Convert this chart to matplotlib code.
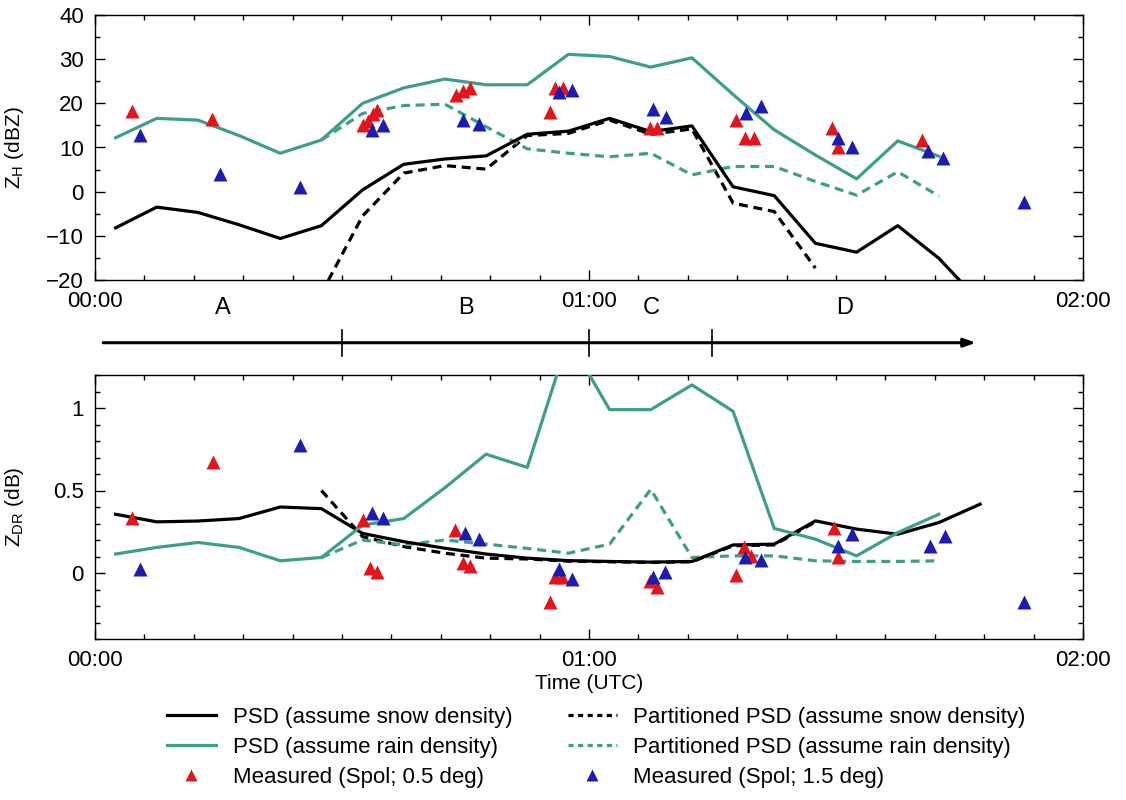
import matplotlib.pyplot as plt
from matplotlib.ticker import MultipleLocator, FuncFormatter
from matplotlib.lines import Line2D

plt.rcParams['font.family'] = ['Liberation Sans', 'DejaVu Sans']

# time axis in minutes after 00:00 UTC
t_psd = [2.5, 7.5, 12.5, 17.5, 22.5, 27.5, 32.5, 37.5, 42.5, 47.5, 52.5,
         57.5, 62.5, 67.5, 72.5, 77.5, 82.5, 87.5, 92.5, 97.5, 102.5, 107.5]
t_part = [27.5, 32.5, 37.5, 42.5, 47.5, 52.5, 57.5, 62.5, 67.5, 72.5, 77.5,
          82.5, 87.5, 92.5, 97.5, 102.5]

# reflectivity Z_H (dBZ)
zh_snow = [-8.2, -3.5, -4.7, -7.5, -10.6, -7.7, 0.4, 6.2, 7.4, 8.1, 13.0,
           13.7, 16.6, 13.6, 14.9, 1.1, -0.9, -11.7, -13.7, -7.7, -15.1, -25.0]
zh_rain = [12.2, 16.6, 16.2, 12.7, 8.7, 11.7, 20.0, 23.5, 25.5, 24.2, 24.2,
           31.1, 30.6, 28.2, 30.3, 22.0, 14.0, 8.3, 2.9, 11.5, 8.0]
zh_part_snow = [-23.0, -5.5, 4.2, 5.9, 5.1, 12.7, 13.2, 16.2, 13.0, 14.2,
                -2.6, -4.5, -17.3]
zh_part_rain = [11.7, 17.7, 19.5, 19.8, 14.7, 9.7, 8.7, 7.9, 8.7, 3.8, 5.7,
                5.7, 2.3, -0.8, 4.5, -1.0]

zh_t05 = [4.45, 14.2, 32.5, 33.2, 33.8, 34.3, 43.9, 44.7, 45.5, 55.3, 55.9,
          56.9, 67.4, 68.2, 77.9, 78.9, 80.0, 89.5, 90.2, 100.5]
zh_05 = [18.3, 16.4, 15.0, 16.0, 17.5, 18.5, 21.9, 22.8, 23.4, 18.1, 23.5,
         23.4, 14.5, 14.5, 16.2, 12.2, 12.2, 14.5, 10.0, 11.7]
zh_t15 = [5.5, 15.2, 24.9, 33.6, 35.0, 44.7, 46.6, 56.3, 57.9, 67.8, 69.3,
          79.1, 80.9, 90.3, 91.9, 101.2, 103.0, 112.8]
zh_15 = [12.8, 3.9, 1.1, 14.0, 15.1, 16.2, 15.3, 22.5, 23.0, 18.7, 17.0,
         17.7, 19.5, 12.1, 10.2, 9.2, 7.6, -2.3]

# differential reflectivity Z_DR (dB)
zdr_snow = [0.356, 0.31, 0.315, 0.33, 0.40, 0.39, 0.24, 0.19, 0.15, 0.115,
            0.09, 0.075, 0.07, 0.066, 0.07, 0.17, 0.175, 0.316, 0.266, 0.235,
            0.306, 0.417]
zdr_rain = [0.115, 0.155, 0.185, 0.155, 0.074, 0.094, 0.29, 0.33, 0.517, 0.72,
            0.64, 1.42, 0.99, 0.99, 1.14, 0.98, 0.27, 0.205, 0.104, 0.245, 0.356]
zdr_part_snow = [0.50, 0.22, 0.16, 0.12, 0.09, 0.085, 0.072, 0.068, 0.064,
                 0.068, 0.165, 0.17, 0.31]
zdr_part_rain = [0.094, 0.20, 0.17, 0.20, 0.175, 0.149, 0.12, 0.175, 0.507,
                 0.094, 0.104, 0.104, 0.074, 0.07, 0.07, 0.074]

zdr_t05 = [4.45, 14.3, 32.6, 33.4, 34.2, 43.7, 44.7, 45.5, 55.3, 55.9, 56.7,
           67.4, 68.2, 77.9, 78.8, 79.7, 89.7, 90.2]
zdr_05 = [0.336, 0.672, 0.322, 0.028, 0.004, 0.26, 0.06, 0.04, -0.173, -0.026,
          -0.026, -0.046, -0.087, -0.012, 0.159, 0.104, 0.275, 0.094]
zdr_t15 = [5.5, 24.9, 33.6, 35.0, 45.0, 46.6, 56.3, 57.9, 67.8, 69.2, 79.0,
           80.9, 90.3, 91.9, 101.4, 103.2, 112.8]
zdr_15 = [0.024, 0.773, 0.366, 0.336, 0.245, 0.205, 0.024, -0.036, -0.026,
          0.008, 0.094, 0.078, 0.165, 0.235, 0.165, 0.225, -0.173]

# periods A-D (minutes)
phase_edges = [1, 30, 60, 75, 107]
phase_labels = ['A', 'B', 'C', 'D']

time_ticks = [0, 60, 120]
time_labels = ['00:00', '01:00', '02:00']

labels = ['PSD (assume snow density)', 'PSD (assume rain density)',
          'Measured (Spol; 0.5 deg)', 'Partitioned PSD (assume snow density)',
          'Partitioned PSD (assume rain density)', 'Measured (Spol; 1.5 deg)']

TEAL = '#3d9f8b'
RED = '#e3141b'
BLUE = '#1c1cb2'
DASH = (0, (2.8, 1.8))
FS = 16

fig = plt.figure(figsize=(11.26, 8.0), dpi=100)
ax1 = fig.add_axes([95/1126, 1-280/800, 988/1126, 265/800])
ax2 = fig.add_axes([95/1126, 1-639/800, 988/1126, 264/800])
axm = fig.add_axes([95/1126, 1-370/800, 988/1126, 88/800])


def draw_panel(ax, snow, rain, psnow, prain, t05, v05, t15, v15):
    ax.plot(t_part[:len(psnow)], psnow, color='k', lw=2.3, ls=DASH, zorder=2)
    ax.plot(t_part[:len(prain)], prain, color=TEAL, lw=2.3, ls=DASH, zorder=2)
    ax.plot(t_psd[:len(snow)], snow, color='k', lw=2.3, zorder=3)
    ax.plot(t_psd[:len(rain)], rain, color=TEAL, lw=2.3, zorder=3)
    ax.plot(t05, v05, ls='none', marker='^', ms=10, color=RED, mec='none', zorder=4)
    ax.plot(t15, v15, ls='none', marker='^', ms=10, color=BLUE, mec='none', zorder=5)
    ax.set_xlim(0, 120)
    ax.set_xticks(time_ticks)
    ax.set_xticklabels(time_labels)
    ax.xaxis.set_minor_locator(MultipleLocator(6))
    ax.tick_params(which='both', direction='in', top=True, right=True,
                   labelsize=FS, width=1)
    ax.tick_params(which='major', length=7, pad=8)
    ax.tick_params(which='minor', length=3.5)
    for s in ax.spines.values():
        s.set_linewidth(1)


draw_panel(ax1, zh_snow, zh_rain, zh_part_snow, zh_part_rain,
           zh_t05, zh_05, zh_t15, zh_15)
ax1.set_ylim(-20, 40)
ax1.yaxis.set_major_locator(MultipleLocator(10))
ax1.yaxis.set_minor_locator(MultipleLocator(5))
ax1.set_ylabel(r'Z$_\mathregular{H}$ (dBZ)', fontsize=15)
ax1.yaxis.set_label_coords(-0.07, 0.5)

draw_panel(ax2, zdr_snow, zdr_rain, zdr_part_snow, zdr_part_rain,
           zdr_t05, zdr_05, zdr_t15, zdr_15)
ax2.set_ylim(-0.4, 1.2)
ax2.yaxis.set_major_locator(MultipleLocator(0.5))
ax2.yaxis.set_minor_locator(MultipleLocator(0.1))
ax2.yaxis.set_major_formatter(FuncFormatter(lambda v, p: '%g' % v))
ax2.set_ylabel(r'Z$_\mathregular{DR}$ (dB)', fontsize=15)
ax2.yaxis.set_label_coords(-0.07, 0.5)
ax2.set_xlabel('Time (UTC)', fontsize=15, labelpad=2)

# period arrow
axm.set_xlim(0, 120)
axm.set_ylim(0, 1)
axm.axis('off')
axm.annotate('', xy=(phase_edges[-1], 0.31), xytext=(phase_edges[0], 0.31),
             arrowprops=dict(arrowstyle='-|>,head_length=0.7,head_width=0.25',
                             lw=2.2, color='k', shrinkA=0, shrinkB=0))
for e in phase_edges[1:-1]:
    axm.plot([e, e], [0.16, 0.46], color='k', lw=1.2)
for i, lab in enumerate(phase_labels):
    axm.text((phase_edges[i] + phase_edges[i+1]) / 2, 0.58, lab,
             ha='center', va='bottom', fontsize=17)

handles = [Line2D([], [], color='k', lw=2.3),
           Line2D([], [], color=TEAL, lw=2.3),
           Line2D([], [], ls='none', marker='^', ms=9, color=RED, mec='none'),
           Line2D([], [], color='k', lw=2.3, ls=(0, (1.6, 1.4))),
           Line2D([], [], color=TEAL, lw=2.3, ls=(0, (1.6, 1.4))),
           Line2D([], [], ls='none', marker='^', ms=9, color=BLUE, mec='none')]
fig.legend(handles, labels, ncol=2, frameon=False, fontsize=16,
           loc='upper left', bbox_to_anchor=(167/1126, 1-707/800),
           borderpad=0, borderaxespad=0, handlelength=2.2, handletextpad=0.75,
           labelspacing=0.4, columnspacing=2.5)

fig.savefig('out.png', dpi=100)
